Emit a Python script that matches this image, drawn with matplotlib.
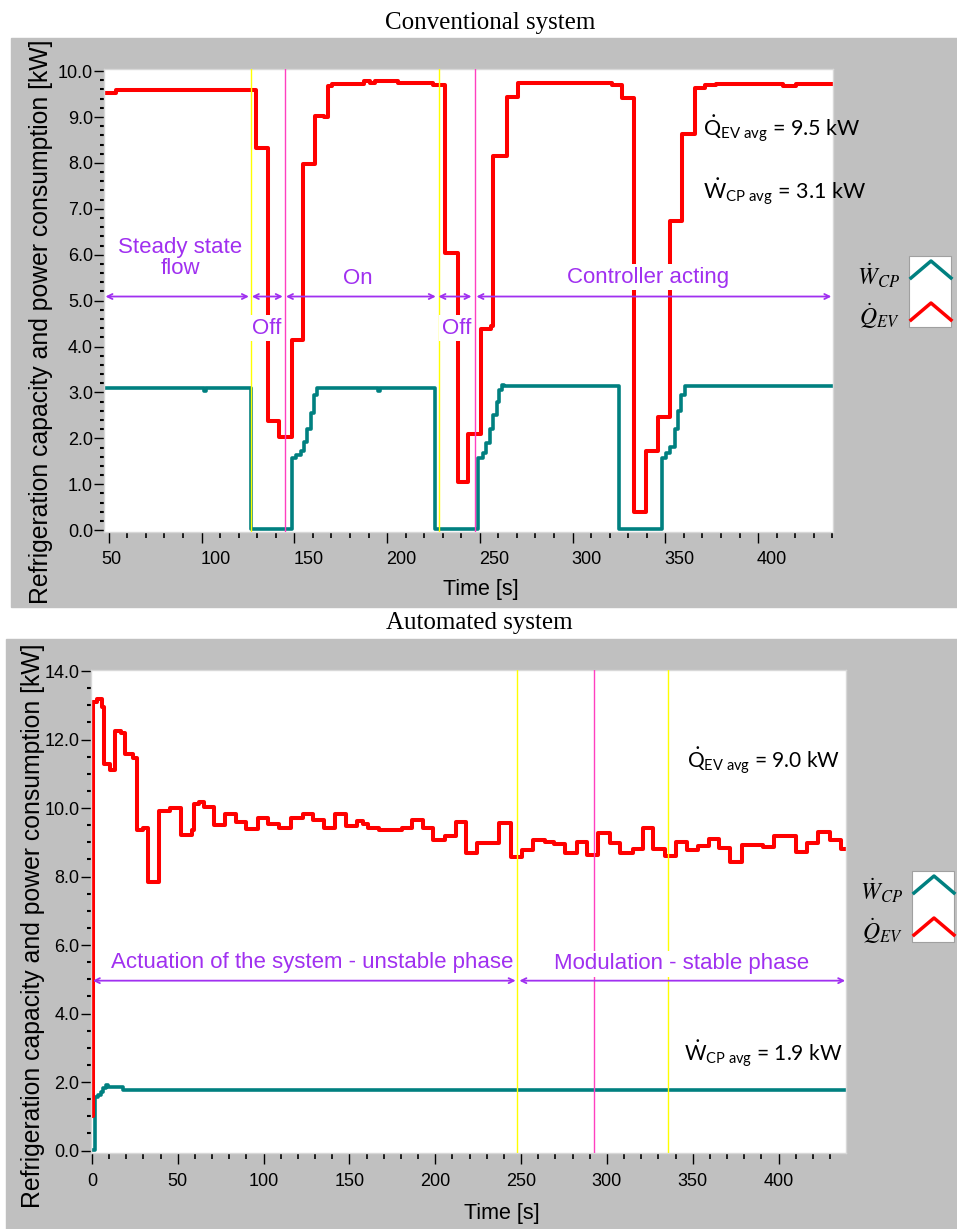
import matplotlib
matplotlib.use("Agg")
import matplotlib.pyplot as plt
from matplotlib import font_manager
from matplotlib.patches import Rectangle
from matplotlib.lines import Line2D
from matplotlib.ticker import MultipleLocator, FormatStrFormatter
from matplotlib.transforms import ScaledTranslation

# ---------------- data (time [s] -> level [kW], step changes) ----------------
# Conventional system
conv_t_qev = [47.4, 53.6, 129.5, 135.7, 142.0, 148.75, 154.8, 161.25, 166.0, 167.9, 170.5,
              187.5, 191.0, 193.75, 206.0, 225.0, 231.25, 238.0, 243.75, 250.9, 255.9,
              257.2, 264.4, 270.7, 321.0, 326.9, 333.0, 339.8, 346.1, 352.4, 359.0,
              365.9, 371.2, 377.5, 413.5, 420.6]
conv_qev = [9.52, 9.59, 8.32, 2.37, 2.02, 4.14, 7.98, 9.03, 8.99, 9.68, 9.73,
            9.79, 9.74, 9.78, 9.74, 9.69, 6.03, 1.05, 2.10, 4.39, 4.44,
            8.16, 9.43, 9.75, 9.69, 9.41, 0.40, 1.72, 2.46, 6.73, 8.63,
            9.64, 9.69, 9.73, 9.68, 9.71]
conv_t_wcp = [47.4, 101.3, 102.3, 126.4, 148.75, 150.9, 153.6, 155.4, 157.1, 158.9, 160.7,
              162.0, 195.0, 196.0, 225.9, 249.1, 251.8, 253.6, 255.4, 257.2, 259.0,
              260.4, 261.7, 263.0, 324.9, 348.3, 350.6, 352.4, 355.1, 356.9, 358.7, 360.5]
conv_wcp = [3.10, 3.03, 3.10, 0.02, 1.575, 1.63, 1.72, 1.92, 2.20, 2.55, 2.95,
            3.10, 3.04, 3.10, 0.02, 1.575, 1.68, 1.90, 2.20, 2.50, 2.80,
            3.05, 3.17, 3.13, 0.02, 1.575, 1.68, 1.82, 2.20, 2.60, 2.95, 3.13]
conv_yellow = [126.4, 227.8]
conv_pink = [144.9, 247.2]
conv_arrows = [(48.2, 125.5), (127.1, 143.75), (145.5, 226.25), (227.7, 245.5), (248.2, 439.5)]
conv_phase_labels = ["Steady state\nflow", "Off", "On", "Off", "Controller acting"]
conv_phase_pos = [(88.4, 5.92), (135.0, 4.40), (184.0, 5.48), (237.4, 4.40), (340.7, 5.51)]
conv_avg = ["9.5", "3.1"]

# Automated system
auto_t_qev = [0.0, 0.4, 2.7, 5.6, 7.0, 10.5, 13.4, 16.7, 19.2, 24.0, 26.4, 29.5, 32.8,
              39.1, 45.3, 51.7, 58.1, 59.3, 62.4, 65.1, 71.1, 77.7, 83.7, 89.9, 96.7,
              102.5, 108.9, 116.1, 123.0, 129.0, 135.2, 141.6, 148.0, 154.6, 157.7,
              161.0, 167.4, 180.4, 186.2, 192.7, 198.9, 205.7, 212.1, 217.9, 224.5,
              237.3, 243.9, 250.3, 257.1, 263.9, 269.2, 275.6, 282.4, 288.6, 295.0,
              301.8, 307.6, 315.0, 320.8, 327.0, 333.8, 340.2, 346.4, 353.2, 359.6,
              365.5, 371.7, 378.5, 391.1, 397.3, 410.1, 416.7, 423.1, 429.9, 436.1]
auto_qev = [1.02, 13.10, 13.17, 12.96, 11.28, 11.11, 12.26, 12.18, 11.58, 11.45, 9.36, 9.41, 7.85,
            9.92, 9.99, 9.21, 9.36, 10.12, 10.17, 10.02, 9.50, 9.84, 9.60, 9.38, 9.70,
            9.53, 9.41, 9.70, 9.84, 9.65, 9.41, 9.84, 9.47, 9.63, 9.53,
            9.41, 9.36, 9.43, 9.65, 9.41, 9.07, 9.18, 9.59, 8.68, 8.97,
            9.57, 8.58, 8.77, 9.07, 9.02, 8.95, 8.70, 9.02, 8.63, 9.26,
            8.97, 8.70, 8.79, 9.41, 8.79, 8.60, 9.02, 8.77, 8.89, 9.09,
            8.82, 8.43, 8.91, 8.87, 9.18, 8.73, 8.97, 9.29, 9.07, 8.79]
auto_t_wcp = [-0.76, 1.7, 3.7, 5.0, 6.5, 8.2, 9.5, 18.3]
auto_wcp = [0.02, 1.55, 1.62, 1.72, 1.82, 1.91, 1.86, 1.77]
auto_yellow = [247.8, 335.4]
auto_pink = [292.2]
auto_arrows = [(0.5, 246.8), (249.0, 438.8)]
auto_phase_labels = ["Actuation of the system - unstable phase", "Modulation - stable phase"]
auto_phase_pos = [(128.2, 5.50), (343.5, 5.45)]
auto_avg = ["9.0", "1.9"]

# ---------------- style ----------------
W, H = 957, 1229
RED, TEAL = "#ff0000", "#008080"
YELLOW, PINK, PURPLE = "#ffff00", "#ff40c0", "#a030f0"
GREY = "#c0c0c0"

names = {f.name for f in font_manager.fontManager.ttflist}
if "Liberation Sans Narrow" in names:
    TICK_FONT, TICK_SIZE = "Liberation Sans Narrow", 15
else:
    TICK_FONT, TICK_SIZE = "Liberation Sans", 13

plt.rcParams["mathtext.fontset"] = "custom"
plt.rcParams["mathtext.rm"] = "Lato"
plt.rcParams["mathtext.it"] = "Lato:italic"


def fx(px):
    return px / W


def fy(py):
    return 1 - py / H


def steps(ax, t, v, t_end, **kw):
    ax.step(list(t) + [t_end], list(v) + [v[-1]], where="post", **kw)


def style_axes(ax, xlim, ylim, ymajor, yminor, xmajor_ticks):
    ax.set_xlim(*xlim)
    ax.set_ylim(*ylim)
    ax.set_yticks(ymajor)
    ax.yaxis.set_minor_locator(MultipleLocator(yminor))
    ax.yaxis.set_major_formatter(FormatStrFormatter("%.1f"))
    ax.set_xticks(xmajor_ticks)
    ax.xaxis.set_minor_locator(MultipleLocator(10))
    ax.tick_params(axis="y", which="major", direction="out", length=7, width=1, pad=1)
    ax.tick_params(axis="y", which="minor", direction="out", length=3, width=1.5)
    ax.tick_params(axis="x", which="major", direction="out", length=8, width=1, pad=6)
    ax.tick_params(axis="x", which="minor", direction="out", length=4, width=1.2)
    for lab in ax.get_xticklabels() + ax.get_yticklabels():
        lab.set_fontfamily(TICK_FONT)
        lab.set_fontsize(TICK_SIZE)
    for s in ax.spines.values():
        s.set_color("#d8d8d8")
        s.set_linewidth(1)


def draw_legend(fig, bx, by):
    # bx, by: top-left corner of the legend swatch box in pixels
    fig.add_artist(Rectangle((fx(bx), fy(by + 71)), 42 / W, 71 / H, transform=fig.transFigure,
                             facecolor="white", edgecolor="#a0a0a0", lw=0.8, zorder=3))
    for col, dy in [(TEAL, 0), (RED, 42)]:
        fig.add_artist(Line2D([fx(bx + 2), fx(bx + 22), fx(bx + 42)],
                              [fy(by + 22 + dy), fy(by + 5 + dy), fy(by + 22 + dy)],
                              transform=fig.transFigure, color=col, lw=2.5, zorder=4))
    fig.text(fx(bx - 30), fy(by + 20), r"$\dot{W}_{CP}$", ha="center", va="center",
             fontsize=17, math_fontfamily="stix")
    fig.text(fx(bx - 30), fy(by + 60), r"$\dot{Q}_{EV}$", ha="center", va="center",
             fontsize=17, math_fontfamily="stix")


def phases(ax, arrows, y, labels, pos):
    for t0, t1 in arrows:
        ax.annotate("", xy=(t1, y), xytext=(t0, y),
                    arrowprops=dict(arrowstyle="<->", color=PURPLE, lw=1.3,
                                    shrinkA=0, shrinkB=0, mutation_scale=9), zorder=4)
    for lab, (tx, ty) in zip(labels, pos):
        ax.text(tx, ty, lab, ha="center", va="center", color=PURPLE, fontsize=16,
                family="Liberation Sans", linespacing=1.0, zorder=6,
                bbox=dict(boxstyle="square,pad=0.12", facecolor="white", edgecolor="none"))


fig = plt.figure(figsize=(W / 100, H / 100), dpi=100)
fig.patch.set_facecolor("white")

# grey panel backgrounds
fig.add_artist(Rectangle((fx(10.7), fy(607.3)), (957 - 10.7) / W, (607.3 - 37.7) / H,
                         transform=fig.transFigure, color=GREY, zorder=-5))
fig.add_artist(Rectangle((fx(6), fy(1229)), (957 - 6) / W, (1229 - 639.3) / H,
                         transform=fig.transFigure, color=GREY, zorder=-5))

# ---------------- top: conventional system ----------------
ax1 = fig.add_axes([fx(104), fy(532), (833 - 104) / W, (532 - 69.3) / H])
steps(ax1, conv_t_wcp, conv_wcp, 440.4, color=TEAL, lw=2.6, zorder=2)
steps(ax1, conv_t_qev, conv_qev, 440.4, color=RED, lw=2.9, zorder=2)
for t in conv_yellow:
    ax1.axvline(t, color=YELLOW, lw=1.0, zorder=3)
for t in conv_pink:
    ax1.axvline(t, color=PINK, lw=1.0, zorder=3)
phases(ax1, conv_arrows, 5.09, conv_phase_labels, conv_phase_pos)
ax1.text(370.3, 8.72, r"$\dot{\mathrm{Q}}_{\mathrm{EV\ avg}}$" + " = " + conv_avg[0] + " kW",
         family="Lato", fontsize=15.5, ha="left", va="center", math_fontfamily="custom", zorder=6)
ax1.text(370.3, 7.35, r"$\dot{\mathrm{W}}_{\mathrm{CP\ avg}}$" + " = " + conv_avg[1] + " kW",
         family="Lato", fontsize=15.5, ha="left", va="center", math_fontfamily="custom", zorder=6)
style_axes(ax1, (47.4, 440.4), (-0.04, 10.04), [i * 1.0 for i in range(11)], 0.2,
           [50, 100, 150, 200, 250, 300, 350, 400])
for i, lab in enumerate(ax1.get_xticklabels()):
    dx = 3 if i == 0 else 14
    lab.set_transform(lab.get_transform() + ScaledTranslation(dx / 100, 0, fig.dpi_scale_trans))

# ---------------- bottom: automated system ----------------
ax2 = fig.add_axes([fx(90.7), fy(1153.3), (845.7 - 90.7) / W, (1153.3 - 670) / H])
steps(ax2, auto_t_wcp, auto_wcp, 439.1, color=TEAL, lw=2.6, zorder=2)
steps(ax2, auto_t_qev, auto_qev, 439.1, color=RED, lw=2.9, zorder=2)
for t in auto_yellow:
    ax2.axvline(t, color=YELLOW, lw=1.0, zorder=3)
for t in auto_pink:
    ax2.axvline(t, color=PINK, lw=1.0, zorder=3)
phases(ax2, auto_arrows, 4.96, auto_phase_labels, auto_phase_pos)
ax2.text(346.8, 11.38, r"$\dot{\mathrm{Q}}_{\mathrm{EV\ avg}}$" + " = " + auto_avg[0] + " kW",
         family="Lato", fontsize=15, ha="left", va="center", math_fontfamily="custom", zorder=6)
ax2.text(344.9, 2.84, r"$\dot{\mathrm{W}}_{\mathrm{CP\ avg}}$" + " = " + auto_avg[1] + " kW",
         family="Lato", fontsize=15, ha="left", va="center", math_fontfamily="custom", zorder=6)
style_axes(ax2, (-0.76, 439.1), (-0.08, 14.03), [0, 2, 4, 6, 8, 10, 12, 14], 0.5,
           [0, 50, 100, 150, 200, 250, 300, 350, 400])

# ---------------- titles, axis labels, legends ----------------
fig.text(fx(490), fy(22.7), "Conventional system", ha="center", va="center",
         family="Liberation Serif", fontsize=18)
fig.text(fx(479), fy(623), "Automated system", ha="center", va="center",
         family="Liberation Serif", fontsize=18)

ylab = "Refrigeration capacity and power consumption [kW]"
fig.text(fx(41), fy(322), ylab, rotation=90, ha="center", va="center",
         family="Liberation Sans", fontsize=17.8)
fig.text(fx(33), fy(926), ylab, rotation=90, ha="center", va="center",
         family="Liberation Sans", fontsize=17.8)
fig.text(fx(481), fy(589), "Time [s]", ha="center", va="center", family=TICK_FONT, fontsize=15.5)
fig.text(fx(502), fy(1213), "Time [s]", ha="center", va="center", family=TICK_FONT, fontsize=15.5)

draw_legend(fig, 909, 256)
draw_legend(fig, 912, 871)

fig.savefig("out.png", dpi=100)
